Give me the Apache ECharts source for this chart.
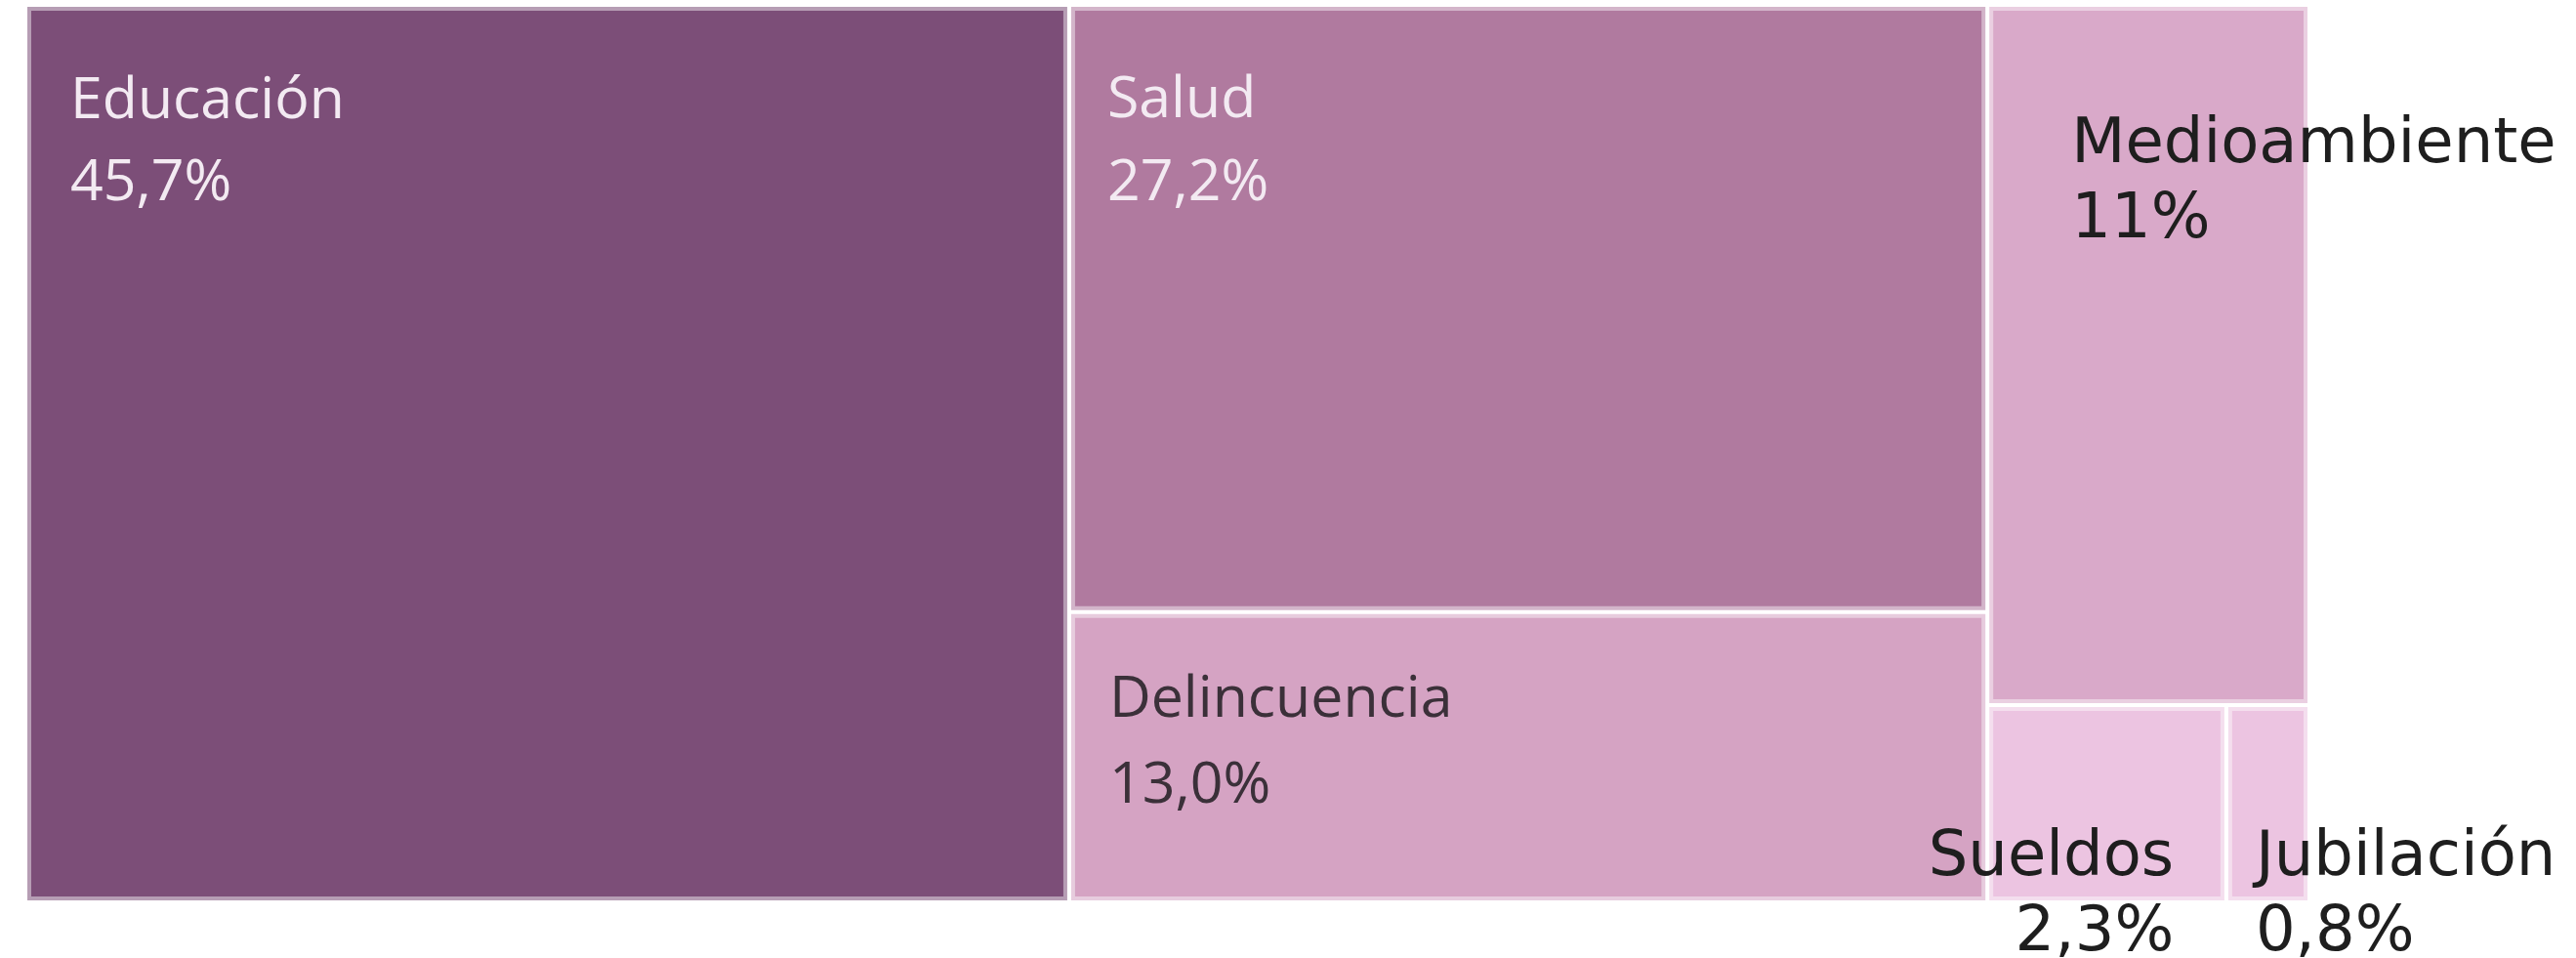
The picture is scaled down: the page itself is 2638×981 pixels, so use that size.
<!DOCTYPE html>
<html>
<head>
<meta charset="utf-8">
<title>Treemap</title>
<script src="https://cdn.jsdelivr.net/npm/echarts@6/dist/echarts.min.js"></script>
<style>
  html, body { margin: 0; padding: 0; background: #fff; }
  #main { width: 2638px; height: 981px; }
</style>
</head>
<body>
<div id="main"></div>
<script>
// datos
const categories = ['Educación', 'Salud', 'Delincuencia', 'Medioambiente', 'Sueldos', 'Jubilación'];
const shares = [45.7, 27.2, 13.0, 11, 2.3, 0.8];
const shareLabels = ['45,7%', '27,2%', '13,0%', '11%', '2,3%', '0,8%'];

// colores de relleno
const palette = ['#7c4e78', '#b07a9f', '#d5a3c3', '#d9a9c9', '#ecc4e1', '#ecc4e1'];

// etiquetas: las tres grandes van dentro, las otras se salen del rectángulo
const inner = { fontFamily: 'Open Sans', fontSize: 59 };
const outer = { fontFamily: 'DejaVu Sans', fontSize: 64, color: '#1e1e1e', lineHeight: 77 };
const labelStyles = [
  Object.assign({}, inner, { color: '#f3eaf2', position: [40, 51], lineHeight: 84 }),
  Object.assign({}, inner, { color: '#f3eaf2', position: [33, 50], lineHeight: 85 }),
  Object.assign({}, inner, { color: '#3b3039', position: [35, 40], lineHeight: 88 }),
  Object.assign({}, outer, { position: [80, 100], align: 'left' }),
  Object.assign({}, outer, { position: [185, 113], align: 'right' }),
  Object.assign({}, outer, { position: [24, 113], align: 'left' })
];

const chart = echarts.init(document.getElementById('main'));

const data = categories.map(function (name, i) {
  return {
    name: name,
    value: shares[i],
    itemStyle: {
      color: palette[i],
      borderColor: echarts.color.lift(palette[i], 0.45)
    },
    label: Object.assign({
      show: true,
      padding: 0,
      overflow: 'none',
      verticalAlign: 'top',
      formatter: function () { return name + '\n' + shareLabels[i]; }
    }, labelStyles[i])
  };
});

chart.setOption({
  animation: false,
  series: [
    {
      type: 'treemap',
      left: 28,
      top: 7,
      width: 2335,
      height: 915,
      roam: false,
      nodeClick: false,
      breadcrumb: { show: false },
      levels: [
        { itemStyle: { borderWidth: 0, gapWidth: 4, borderColor: '#fff' } },
        { itemStyle: { borderWidth: 4 } }
      ],
      data: data
    }
  ]
});
</script>
</body>
</html>
